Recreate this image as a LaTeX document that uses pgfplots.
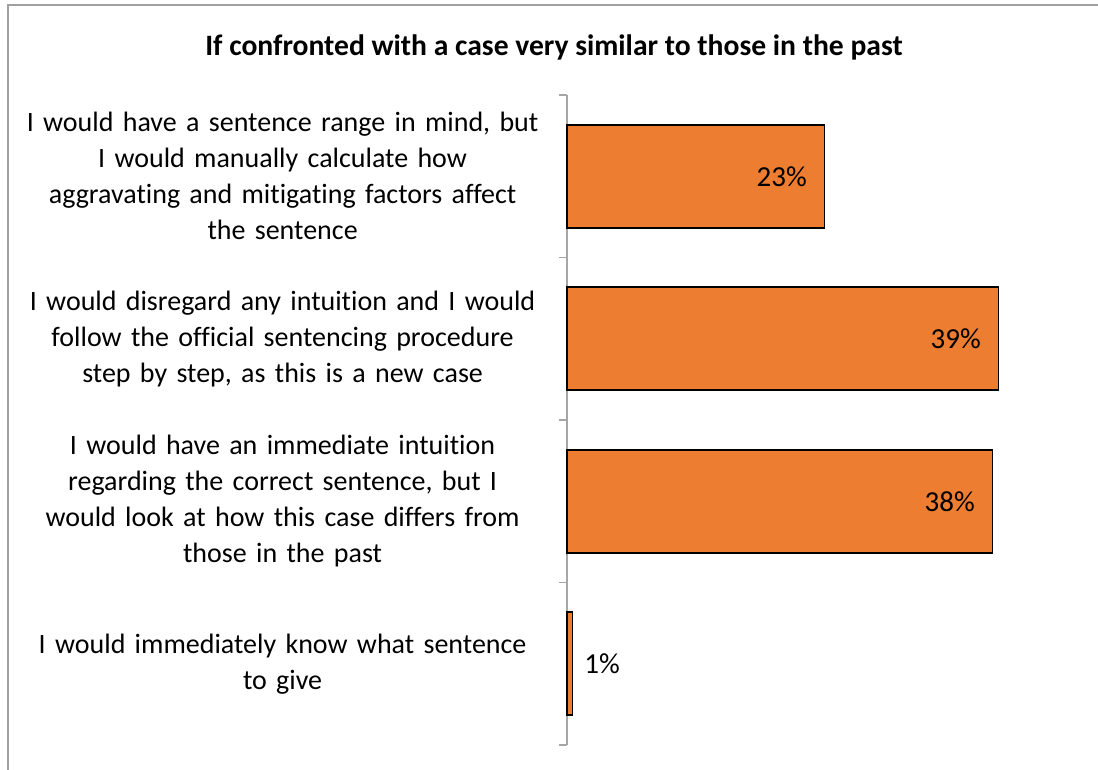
\documentclass[border=0pt]{standalone}
\usepackage{pgfplots}
\pgfplotsset{compat=1.18}
\usepackage{fontspec}
\setmainfont{Carlito}[Ligatures=NoCommon]
\definecolor{barorange}{RGB}{237,125,49}
\definecolor{axisgray}{RGB}{166,166,166}
\definecolor{framegray}{RGB}{160,160,160}
\begin{document}
\begin{tikzpicture}
% page = 1098 x 770 px, 1 px = 0.5pt
\path[use as bounding box] (0,0) rectangle (549pt,-385pt);
\draw[framegray, line width=1pt] (4pt,-385pt) -- (4pt,-2.5pt) -- (549pt,-2.5pt);
\node[font=\fontsize{14.8}{18}\selectfont\bfseries] at (277pt,-23.5pt)
  {If confronted with a case very similar to those in the past};
\begin{axis}[
    at={(283.5pt,-372.5pt)}, anchor=south west,
    scale only axis,
    width=246.5pt, height=325pt,
    xmin=0, xmax=44.6,
    ymin=-0.5, ymax=3.5,
    y dir=reverse,
    axis x line=none,
    axis y line*=left,
    y axis line style={axisgray, line width=0.8pt},
    xbar, bar width=51.5pt, bar shift=0pt,
    ytick={0,1,2,3},
    major tick length=0pt,
    minor ytick={-0.5,0.5,1.5,2.5,3.5},
    minor tick length=4pt,
    tick align=outside,
    minor tick style={axisgray, line width=0.8pt},
    yticklabels={
      {I would have a sentence range in mind, but\\I would manually calculate how\\aggravating and mitigating factors affect\\the sentence},
      {I would disregard any intuition and I would\\follow the official sentencing procedure\\step by step, as this is a new case},
      {I would have an immediate intuition\\regarding the correct sentence, but I\\would look at how this case differs from\\those in the past},
      {I would immediately know what sentence\\to give}},
    yticklabel style={font=\fontsize{14}{18}\selectfont, align=center,
      text width=270pt, anchor=east, inner sep=0pt, xshift=-7pt},
    point meta=explicit symbolic,
    nodes near coords,
    nodes near coords style={font=\fontsize{14.5}{16}\selectfont, inner sep=0pt},
    clip=false,
]
\addplot[fill=barorange, draw=black, line width=0.8pt,
    nodes near coords style={anchor=east, xshift=-8.5pt}]
  coordinates {(23.3,0) [23\%] (39.05,1) [39\%] (38.5,2) [38\%]};
\addplot[fill=barorange, draw=black, line width=0.8pt,
    nodes near coords style={anchor=west, xshift=5.5pt}]
  coordinates {(0.5,3) [1\%]};
\end{axis}
\end{tikzpicture}
\end{document}
